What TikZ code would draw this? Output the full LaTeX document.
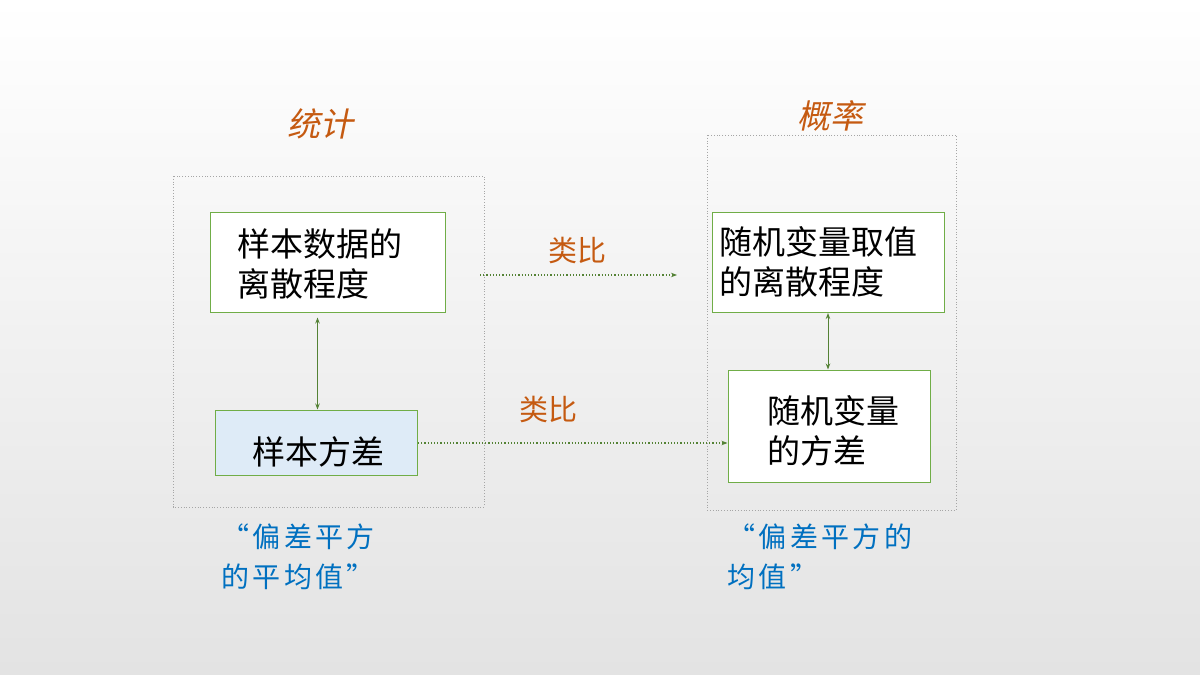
\documentclass[tikz,border=0pt]{standalone}
\usepackage{fontspec}
\newfontfamily\cjk{Noto Sans CJK SC}
\newfontfamily\cjki{Noto Sans CJK SC}[FakeSlant=0.2]
\newfontfamily\cjks{Noto Sans CJK SC}[LetterSpace=12]
\usetikzlibrary{arrows.meta}
\definecolor{org}{RGB}{197,90,17}
\definecolor{grn}{RGB}{112,173,71}
\definecolor{dgrn}{RGB}{84,130,53}
\definecolor{blu}{RGB}{0,112,192}
\definecolor{lblu}{RGB}{222,235,247}
\tikzset{
 frame/.style={draw=gray!70,dotted,line width=0.8pt},
 gbox/.style={draw=grn,line width=1pt,fill=white,inner sep=0pt},
 bt/.style={font=\cjk\fontsize{33}{40}\selectfont,align=left,anchor=west},
 ttl/.style={font=\cjki\fontsize{33}{36}\selectfont,text=org},
 lab/.style={font=\cjk\fontsize{29}{32}\selectfont,text=org},
 note/.style={font=\cjks\fontsize{28}{40}\selectfont,text=blu,align=left,anchor=north west},
 link/.style={dgrn,dotted,line width=1.2pt,-{Stealth[length=6pt]}},
 dbl/.style={dgrn,line width=1pt,{Stealth[length=6pt]}-{Stealth[length=6pt]}}
}
\begin{document}
\begin{tikzpicture}[x=1pt,y=-1pt]
\useasboundingbox (0,0) rectangle (1200,675);
\shade[top color=white,bottom color=gray!22] (0,0) rectangle (1200,675);
\draw[frame] (173,176) rectangle (484,507);
\draw[frame] (707,135) rectangle (956,510);
\node[ttl] (t1) at (320,124) {统计};
\node[ttl] (t2) at (830,116) {概率};
\node[gbox,minimum width=235,minimum height=100] (b1) at (327.5,262) {};
\node[bt] at (234,264) {样本数据的\\离散程度};
\node[gbox,fill=lblu,minimum width=202,minimum height=65] (b2) at (316,442.5) {};
\node[font=\cjk\fontsize{33}{38}\selectfont] at (318,452) {样本方差};
\node[gbox,minimum width=232,minimum height=100] (b3) at (828,262) {};
\node[bt] at (716,262) {随机变量取值\\的离散程度};
\node[gbox,minimum width=202,minimum height=112] (b4) at (829,426) {};
\node[bt] at (764,431) {随机变量\\的方差};
\draw[dbl] (b1.south) ++(-10,5) coordinate (p1) -- (p1 |- b2.north);
\draw[dbl] (828,313) coordinate (p2) -- (p2 |- b4.north);
\coordinate (a1) at (480,275); \coordinate (a2) at (677,275);
\draw[link] (a1) -- (a2);
\node[lab] (l1) at (577,250) {类比};
\coordinate (c1) at (418,443);
\draw[link] (c1) -- (c1 -| b4.west);
\node[lab] (l2) at (548,409) {类比};
\node[note] (n1) at (218,520) {“偏差平方\\的平均值”};
\node[note] (n2) at (724,520) {“偏差平方的\\均值”};
\end{tikzpicture}
\end{document}
